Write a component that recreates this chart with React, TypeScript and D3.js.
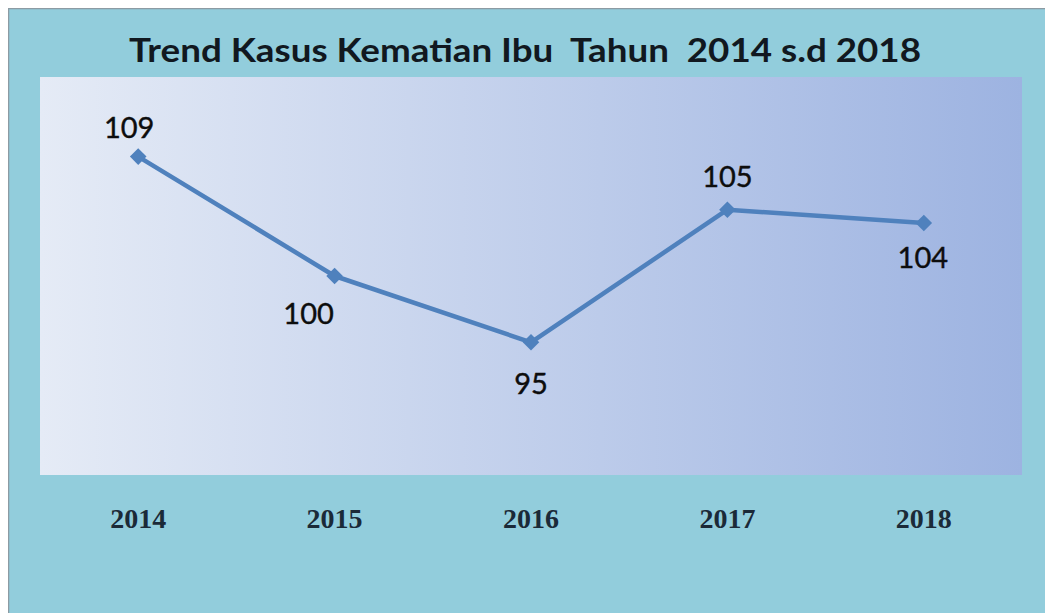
import React from "react";
import * as d3 from "d3";

const years = ["2014", "2015", "2016", "2017", "2018"];
const values = [109, 100, 95, 105, 104];
const labelDx = [-9, -26, 0, 0, -1];
const labelDy = [-19, 48, 52, -23, 45];
const title = "Trend Kasus Kematian Ibu  Tahun  2014 s.d 2018";

export default function App() {
  const W = 1045, H = 605;
  const ox = 8, oy = 8; // page offset of svg
  const plot = { x0: 40 - ox, x1: 1022 - ox, y0: 77 - oy, y1: 475 - oy };
  const x = d3.scaleBand().domain(years).range([plot.x0, plot.x1]);
  const y = d3.scaleLinear().domain([85, 115]).range([plot.y1, plot.y0]);
  const cx = (d: string) => (x(d) as number) + x.bandwidth() / 2;
  const line = d3.line<number>().x((_, i) => cx(years[i])).y((v) => y(v));
  const diamond = d3.symbol().type(d3.symbolDiamond2).size(175)();
  return (
    <svg width={W} height={H} style={{ display: "block" }}>
      <defs>
        <linearGradient id="pg" x1="0" x2="1" y1="0" y2="0">
          <stop offset="0" stopColor="#E5EBF6" />
          <stop offset="1" stopColor="#9DB3E1" />
        </linearGradient>
      </defs>
      <rect x={0.5} y={0.5} width={W + 10} height={H + 10} fill="#92CDDC" stroke="#8c9ba3" strokeWidth={1.5} />
      <rect x={plot.x0} y={plot.y0} width={plot.x1 - plot.x0} height={plot.y1 - plot.y0} fill="url(#pg)" />
      <text
        x={525 - ox}
        y={62 - oy}
        textAnchor="middle"
        fontFamily="Lato, 'Open Sans', sans-serif"
        fontWeight="bold"
        fontSize={33}
        fill="#111820"
        textLength={792}
        lengthAdjust="spacingAndGlyphs"
        style={{ whiteSpace: "pre" }}
      >
        {title}
      </text>
      <path d={line(values) || ""} fill="none" stroke="#4F81BD" strokeWidth={4.5} strokeLinejoin="round" />
      {values.map((v, i) => (
        <path key={"m" + i} d={diamond || ""} transform={`translate(${cx(years[i])},${y(v)})`} fill="#4F81BD" />
      ))}
      {values.map((v, i) => (
        <text
          key={"l" + i}
          x={cx(years[i]) + labelDx[i]}
          y={y(v) + labelDy[i]}
          textAnchor="middle"
          fontFamily="Lato, 'Open Sans', sans-serif"
          fontSize={29}
          fill="#0d0d0d"
          stroke="#0d0d0d"
          strokeWidth={0.4}
        >
          {v}
        </text>
      ))}
      {years.map((yr) => (
        <text
          key={yr}
          x={cx(yr)}
          y={528 - oy}
          textAnchor="middle"
          fontFamily="'Liberation Serif', 'DejaVu Serif', serif"
          fontWeight="bold"
          fontSize={28}
          fill="#1b2a38"
        >
          {yr}
        </text>
      ))}
    </svg>
  );
}
